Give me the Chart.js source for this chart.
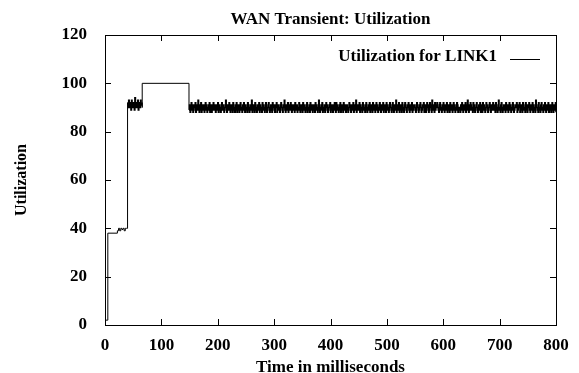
<!DOCTYPE html>
<html>
<head>
<meta charset="utf-8">
<script src="https://cdn.jsdelivr.net/npm/chart.js@4/dist/chart.umd.min.js"></script>
<style>
    html, body { margin: 0; padding: 0; background: #fff; }
    #wrap { width: 579px; height: 373px; }
</style>
</head>
<body>
<div id="wrap"><canvas id="utilChart" width="579" height="373"></canvas></div>
<script>
// start-up: link comes up, sits near 40%, then a short burst
const rampTimes = [0, 5, 22, 24, 26, 28, 30, 32, 34, 36, 38];
const rampUtil = [2, 38, 39, 40, 39, 40, 39.5, 40, 39, 40, 40];

// burst from 40 ms, one sample per ms
const burstStart = 40;
const burstStep = 1;
const burstUtil = [92, 90, 93, 91, 90, 92, 89, 93, 91, 90, 92, 91, 89, 94, 90, 92, 91, 90, 93, 89, 92, 91, 90, 93, 91, 92, 90];

// saturated plateau
const plateauTimes = [66];
const plateauUtil = [100];

// steady state from 149 ms, one sample per ms
const steadyStart = 149;
const steadyStep = 1;
const steadyUtil = [
    89, 91, 88, 90, 92, 89, 91, 88, 89, 91, 90, 92, 88, 89, 91, 89, 93, 90, 88, 91,
    89, 92, 88, 91, 89, 90, 91, 88, 89, 92, 91, 89, 88, 90, 91, 89, 92, 88, 91, 90,
    88, 91, 89, 92, 90, 89, 91, 88, 90, 91, 89, 92, 88, 91, 89, 90, 88, 91, 92, 89,
    91, 89, 88, 90, 91, 93, 89, 88, 91, 90, 89, 92, 91, 88, 89, 91, 90, 88, 92, 89,
    90, 88, 91, 89, 92, 88, 90, 91, 89, 88, 91, 92, 89, 90, 88, 91, 89, 92, 90, 88,
    91, 89, 90, 88, 92, 91, 89, 88, 90, 91, 89, 93, 88, 90, 91, 89, 88, 92, 91, 89,
    88, 90, 91, 89, 92, 88, 91, 90, 89, 88, 92, 91, 89, 90, 88, 91, 92, 89, 88, 90,
    91, 92, 89, 88, 90, 91, 89, 88, 92, 90, 91, 89, 88, 91, 90, 92, 88, 89, 91, 90,
    89, 88, 91, 92, 90, 89, 88, 91, 90, 93, 89, 88, 91, 90, 89, 92, 88, 91, 89, 90,
    92, 89, 88, 91, 90, 89, 91, 88, 92, 90, 89, 91, 88, 90, 89, 92, 91, 88, 89, 91,
    90, 88, 92, 89, 91, 90, 88, 89, 91, 92, 88, 90, 89, 91, 88, 92, 90, 89, 91, 88,
    89, 91, 90, 88, 92, 89, 91, 90, 88, 89, 93, 91, 88, 90, 89, 91, 92, 88, 90, 89,
    91, 88, 89, 92, 90, 91, 88, 89, 90, 91, 92, 88, 89, 91, 90, 88, 91, 89, 92, 90,
    88, 92, 91, 89, 90, 88, 91, 89, 92, 88, 90, 91, 89, 88, 92, 90, 89, 91, 88, 90,
    91, 89, 88, 90, 92, 91, 89, 88, 91, 90, 89, 92, 88, 91, 90, 89, 93, 88, 90, 91,
    89, 90, 92, 88, 91, 89, 90, 88, 92, 91, 89, 90, 88, 91, 92, 89, 88, 90, 91, 89,
    92, 88, 90, 91, 89, 88, 92, 90, 89, 91, 88, 90, 92, 89, 91, 88, 90, 89, 92, 91,
    88, 91, 89, 90, 92, 88, 89, 91, 90, 88, 92, 89, 91, 90, 88, 89, 92, 91, 90, 88,
    90, 92, 89, 88, 91, 90, 89, 93, 88, 91, 90, 89, 92, 88, 90, 91, 89, 88, 92, 90,
    89, 88, 91, 92, 90, 89, 88, 91, 90, 92, 89, 88, 91, 89, 90, 92, 88, 91, 89, 90,
    91, 90, 88, 89, 92, 91, 90, 88, 89, 91, 92, 90, 88, 89, 91, 90, 92, 88, 89, 91,
    88, 89, 92, 90, 91, 88, 89, 92, 91, 90, 88, 93, 89, 91, 90, 88, 92, 89, 91, 90,
    92, 90, 89, 88, 91, 92, 89, 90, 88, 91, 89, 92, 90, 88, 91, 89, 90, 92, 88, 91,
    89, 91, 88, 92, 90, 89, 91, 88, 90, 92, 89, 91, 88, 90, 89, 92, 91, 88, 90, 89,
    90, 88, 91, 89, 92, 90, 88, 91, 89, 90, 92, 88, 91, 89, 93, 90, 88, 91, 89, 92,
    91, 89, 90, 88, 92, 91, 89, 88, 90, 91, 92, 89, 88, 90, 91, 89, 92, 88, 91, 90,
    88, 92, 89, 91, 90, 88, 89, 92, 91, 90, 88, 89, 91, 92, 90, 88, 91, 89, 90, 92,
    89, 90, 91, 88, 92, 89, 90, 88, 91, 93, 89, 90, 88, 91, 92, 89, 88, 90, 91, 89,
    91, 88, 92, 90, 89, 91, 88, 90, 92, 89, 91, 88, 90, 89, 92, 91, 88, 89, 90, 91,
    90, 92, 88, 89, 91, 90, 92, 88, 89, 91, 90, 88, 92, 91, 89, 90, 88, 92, 89, 91,
    88, 90, 91, 92, 89, 88, 91, 90, 89, 92, 88, 91, 90, 89, 88, 93, 91, 90, 89, 88,
    92, 89, 90, 88, 91, 92, 89, 90, 88, 91, 89, 92, 90, 88, 91, 89, 90, 92, 88, 91,
    89, 91, 88, 90, 92, 89, 88, 91, 90, 89, 92, 88, 91, 90, 89, 88, 92, 91, 90, 89
];

const xTicks = [0, 100, 200, 300, 400, 500, 600, 700, 800];
const yTicks = [0, 20, 40, 60, 80, 100, 120];

const serif = '"Liberation Serif", "Times New Roman", Times, serif';
const font17 = { family: serif, size: 17, weight: 'bold' };

function buildPoints() {
    const pts = [];
    rampTimes.forEach((t, i) => pts.push({ x: t, y: rampUtil[i] }));
    burstUtil.forEach((v, i) => pts.push({ x: burstStart + i * burstStep, y: v }));
    plateauTimes.forEach((t, i) => pts.push({ x: t, y: plateauUtil[i] }));
    steadyUtil.forEach((v, i) => pts.push({ x: steadyStart + i * steadyStep, y: v }));
    return pts;
}

// the dense noisy stretches read heavier in the original plot
function noisyWidth(ctx) {
    const x0 = ctx.p0.parsed.x;
    const x1 = ctx.p1.parsed.x;
    const inBurst = x0 >= burstStart && x1 < plateauTimes[0];
    const inSteady = x0 >= steadyStart;
    return inBurst || inSteady ? 1.5 : undefined;
}

// gnuplot style frame: box round the plot, ticks pointing inwards, key top right
const gnuFrame = {
    id: 'gnuFrame',
    afterDraw(chart) {
        const { ctx, chartArea: a, scales } = chart;
        const len = 6;
        ctx.save();
        ctx.strokeStyle = '#000';
        ctx.lineWidth = 1;
        ctx.beginPath();
        xTicks.forEach(v => {
            const px = Math.round(scales.x.getPixelForValue(v)) + 0.5;
            ctx.moveTo(px, a.bottom); ctx.lineTo(px, a.bottom - len);
            ctx.moveTo(px, a.top); ctx.lineTo(px, a.top + len);
        });
        yTicks.forEach(v => {
            const py = Math.round(scales.y.getPixelForValue(v)) + 0.5;
            ctx.moveTo(a.left, py); ctx.lineTo(a.left + len, py);
            ctx.moveTo(a.right, py); ctx.lineTo(a.right - len, py);
        });
        ctx.stroke();
        ctx.strokeRect(Math.round(a.left) + 0.5, Math.round(a.top) + 0.5,
            Math.round(a.right - a.left), Math.round(a.bottom - a.top));

        const ds = chart.data.datasets[0];
        ctx.font = 'bold 17px ' + serif;
        ctx.fillStyle = '#000';
        ctx.textAlign = 'right';
        ctx.textBaseline = 'middle';
        ctx.fillText(ds.label, a.right - 59, a.top + 22);
        ctx.strokeStyle = ds.borderColor;
        ctx.beginPath();
        ctx.moveTo(a.right - 46, a.top + 24.5);
        ctx.lineTo(a.right - 16, a.top + 24.5);
        ctx.stroke();
        ctx.restore();
    }
};

new Chart(document.getElementById('utilChart'), {
    type: 'line',
    data: {
        datasets: [{
            label: 'Utilization for LINK1',
            data: buildPoints(),
            borderColor: '#000',
            borderWidth: 1,
            pointRadius: 0,
            stepped: true,
            fill: false,
            segment: { borderWidth: noisyWidth }
        }]
    },
    options: {
        responsive: false,
        animation: false,
        layout: { padding: { left: 0, right: 23, top: 0, bottom: 0 } },
        scales: {
            x: {
                type: 'linear',
                min: 0,
                max: 800,
                afterFit: scale => { scale.height = 48; },
                afterBuildTicks: scale => { scale.ticks = xTicks.map(v => ({ value: v })); },
                grid: { display: false },
                border: { display: false },
                ticks: { color: '#000', font: font17, padding: 2, maxRotation: 0 },
                title: {
                    display: true,
                    text: 'Time in milliseconds',
                    color: '#000',
                    font: font17,
                    padding: { top: 0, bottom: -5 }
                }
            },
            y: {
                min: 0,
                max: 120,
                afterFit: scale => { scale.width = 105; },
                afterBuildTicks: scale => { scale.ticks = yTicks.map(v => ({ value: v })); },
                grid: { display: false },
                border: { display: false },
                ticks: { color: '#000', font: font17, padding: 10 },
                title: {
                    display: true,
                    text: 'Utilization',
                    color: '#000',
                    font: { family: serif, size: 16, weight: 'bold' },
                    padding: { top: 12, bottom: 0 }
                }
            }
        },
        plugins: {
            legend: { display: false },
            tooltip: { enabled: false },
            title: {
                display: true,
                text: 'WAN Transient: Utilization',
                color: '#000',
                font: font17,
                fullSize: false,
                padding: { top: 9, bottom: 5.6 }
            }
        }
    },
    plugins: [gnuFrame]
});
</script>
</body>
</html>
